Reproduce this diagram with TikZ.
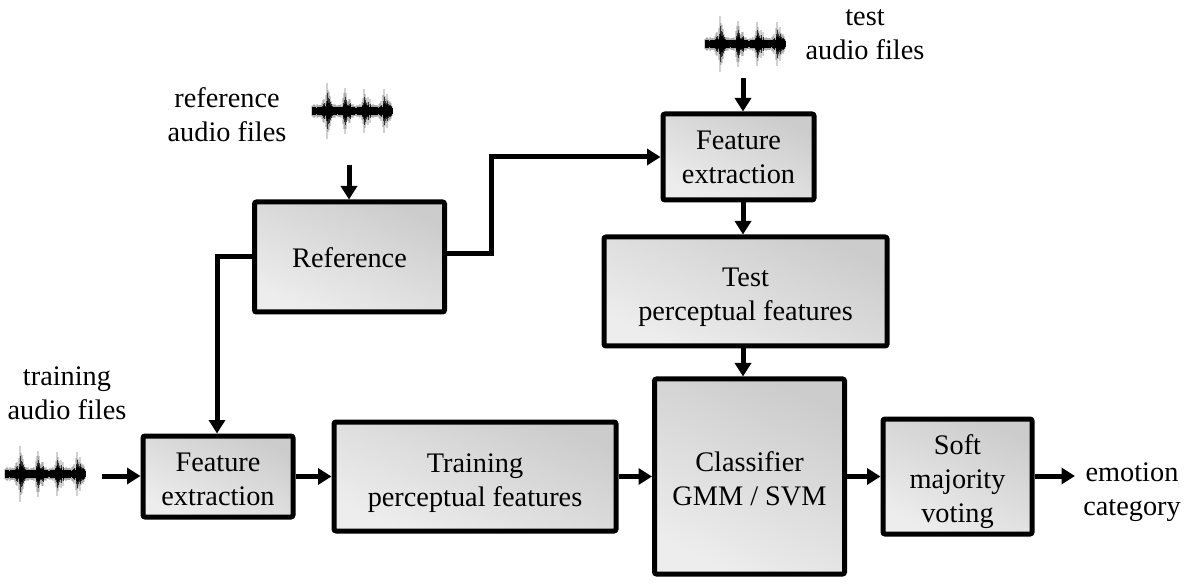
\documentclass[tikz,border=0pt]{standalone}
\usepackage{fontspec}
\setmainfont{Liberation Serif}
\usetikzlibrary{arrows.meta,positioning}

\definecolor{boxdark}{gray}{0.80}
\definecolor{boxlight}{gray}{0.93}

\begin{document}
\begin{tikzpicture}[
  x=1pt,y=-1pt,
  box/.style={
    draw,
    line width=5pt,
    rounded corners=2pt,
    align=center,
    left color=boxlight,
    right color=boxdark,
    shading angle=155,
    font=\fontsize{28.3}{34}\selectfont
  },
  label/.style={
    align=center,
    font=\fontsize{28.3}{34}\selectfont
  },
  line/.style={-{Triangle[length=13.5pt,width=16pt]},line width=5pt},
  wave/.pic={
    \pgfmathsetseed{23}
    \foreach \t in {-40,-39,...,40} {
      \pgfmathsetmacro{\env}{cos(180*(\t+25)/19.5)^6}
      \pgfmathsetmacro{\amp}{3+(2+16*\env)*(0.2+0.8*rnd)}
      \draw[black,opacity=0.18,line width=1.6pt] (\t,-\amp*1.35) -- (\t,\amp*1.35);
      \draw[black,opacity=0.7,line width=1pt] (\t,-\amp*0.85) -- (\t,\amp*0.85);
      \draw[black,line width=1pt] (\t,-\amp*0.4-2) -- (\t,\amp*0.4+2);
    }
  }
]
\useasboundingbox (0,0) rectangle (1200,585);

\node[box,text height=57pt,text depth=0pt,minimum width=150pt,minimum height=81pt] (fetrain) at (218,476.5) {Feature\\extraction};
\node[box,text height=59pt,text depth=0pt,minimum width=282pt,minimum height=109pt,right=36pt of fetrain] (train) {Training\\perceptual features};
\node[box,text height=58pt,text depth=0pt,minimum width=190pt,minimum height=195pt,right=33.5pt of train] (clf) {Classifier\\GMM / SVM};
\node[box,text height=92pt,text depth=0pt,minimum width=149pt,minimum height=115pt,right=33.5pt of clf] (vote) {Soft\\majority\\voting};
\node[box,text height=21pt,text depth=0pt,minimum width=190pt,minimum height=110pt] (ref) at (349.5,257) {Reference};
\node[box,minimum width=151pt,minimum height=86pt] (fetest) at (738.5,157) {Feature\\extraction};
\node[box,text height=59pt,text depth=0pt,minimum width=283pt,minimum height=109pt,below=32pt of fetest,xshift=7pt] (test) {Test\\perceptual features};

\node[label] (lbltrain) at (67,393) {training\\audio files};
\node[label] (lblref) at (227,115) {reference\\audio files};
\node[label] (lbltest) at (865,35) {test\\audio files};
\node[label] (lblout) at (1132,492) {emotion\\category};

\pic at (45,474) {wave};
\pic at (352,111) {wave};
\pic at (745,44) {wave};

\coordinate (inw) at (102,476);
\coordinate (inr) at (349,165);
\coordinate (int) at (743,78);
\coordinate (outv) at (1075,476);

\draw[line] (inw) -- (inw -| fetrain.west);
\draw[line] (inr) -- (inr |- ref.north);
\draw[line] (int) -- (int |- fetest.north);
\draw[line] (fetrain) -- (train);
\draw[line] (train) -- (clf);
\draw[line] (clf) -- (vote);
\draw[line] (outv -| vote.east) -- (outv);
\draw[line] (int |- fetest.south) -- (int |- test.north);
\draw[line] (int |- test.south) -- (int |- clf.north);
\draw[line] (ref.west) -| ([xshift=-1pt]fetrain.north);
\draw[line] ([yshift=3pt]ref.east) -- ++(44,0) |- (fetest.west);
\end{tikzpicture}
\end{document}
